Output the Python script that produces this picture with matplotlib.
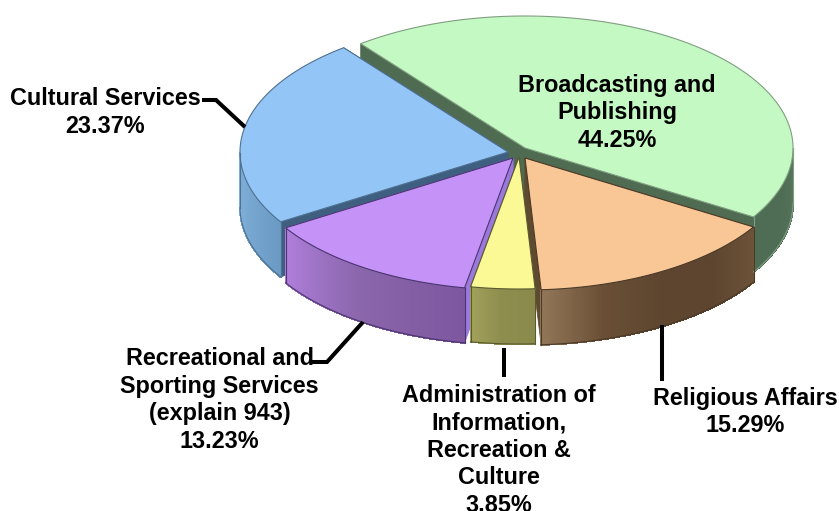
import numpy as np
import matplotlib.pyplot as plt
from matplotlib.patches import Polygon
from matplotlib.colors import to_rgb

plt.rcParams['font.family'] = ['Liberation Sans', 'DejaVu Sans']

categories = ['Broadcasting and\nPublishing', 'Religious Affairs',
              'Administration of\nInformation,\nRecreation &\nCulture',
              'Recreational and\nSporting Services\n(explain 943)',
              'Cultural Services']
shares = [44.25, 15.29, 3.85, 13.23, 23.37]

# look of each slice, same order as categories
top_colors = ['#c5f9c3', '#f9c795', '#fbf896', '#c592f7', '#93c6f6']
cut_colors = ['#4f6b52', '#5f4a30', '#5f4a30', '#9a78dc', '#3f5f80']
wall_stops = [['#4f6d54', '#4f6d54', '#56755b'],
              ['#937759', '#6a4f36', '#5e452f', '#5e452f', '#6c5238'],
              ['#a3a25c', '#8d8d4e', '#8a8a4c'],
              ['#b07fdc', '#8a66ab', '#7d57a0'],
              ['#82b4e0', '#78a8d2', '#6b9ac4']]
edge_colors = ['#7f9f80', '#4a3a28', '#5a5a30', '#4a3570', '#4f7090']
centers = [(525, 148), (525, 158), (519, 157), (513, 158), (508, 152)]

rx, ry = 268, 132
depth = 55
start_angle = -31.5


def rim(center, deg):
    t = np.radians(deg)
    return np.column_stack([center[0] + rx * np.cos(t), center[1] - ry * np.sin(t)])


def blend(stops, f):
    stops = [np.array(to_rgb(c)) for c in stops]
    f = f * (len(stops) - 1)
    i = min(int(f), len(stops) - 2)
    return stops[i] + (stops[i + 1] - stops[i]) * (f - i)


fig = plt.figure(figsize=(8.39, 5.11), dpi=100)
ax = fig.add_axes([0, 0, 1, 1])
ax.set_xlim(0, 839)
ax.set_ylim(511, 0)
ax.axis('off')

# slice angles run clockwise from the green/orange boundary
sweeps = np.array(shares) / sum(shares) * 360
ends = [start_angle + sweeps[0]]
starts = [start_angle]
a = start_angle
for s in sweeps[1:]:
    starts.append(a - s)
    ends.append(a)
    a -= s

# back slices first so the front ones overlap them
for i in [0, 4, 1, 3, 2]:
    c, a0, a1 = centers[i], starts[i], ends[i]
    down = np.array([0, depth])

    # the two cut faces
    for ang in (a0, a1):
        p = rim(c, np.array([ang]))[0]
        cut = [c, p, p + down, np.array(c) + down]
        ax.add_patch(Polygon(cut, closed=True, fc=cut_colors[i], ec=cut_colors[i], lw=0.5))

    # outer wall, only the part facing front, shaded in thin strips
    angs = np.linspace(a0, a1, 240)
    norm = ((angs + 360) % 360)
    angs = angs[(norm >= 180) & (norm <= 360)]
    if len(angs) > 1:
        pts = rim(c, angs)
        for k in range(len(pts) - 1):
            f = k / (len(pts) - 2) if len(pts) > 2 else 0
            col = blend(wall_stops[i], f)
            q = [pts[k], pts[k + 1], pts[k + 1] + down, pts[k] + down]
            ax.add_patch(Polygon(q, closed=True, fc=col, ec=col, lw=0.8, antialiased=False))
        ax.plot(pts[:, 0], pts[:, 1] + depth, color=edge_colors[i], lw=0.8)
        ax.plot([pts[0, 0]] * 2, [pts[0, 1], pts[0, 1] + depth], color=edge_colors[i], lw=0.8)
        ax.plot([pts[-1, 0]] * 2, [pts[-1, 1], pts[-1, 1] + depth], color=edge_colors[i], lw=0.8)

    # top face
    arc = rim(c, np.linspace(a0, a1, 200))
    top = np.vstack([[c], arc])
    ax.add_patch(Polygon(top, closed=True, fc=top_colors[i], ec=edge_colors[i], lw=0.8))

# leader lines
leaders = [([202, 216, 245], [100, 100, 127]),
           ([312, 327, 363], [362, 362, 322]),
           ([504, 504], [348, 377]),
           ([662, 662], [325, 381])]
for xs, ys in leaders:
    ax.plot(xs, ys, color='black', lw=2.9, solid_capstyle='butt', solid_joinstyle='miter')

# labels
label_pos = [(617, 113), (745, 412), (499, 450.5), (219.5, 400), (105, 112.5)]
for name, val, (x, y) in zip(categories, shares, label_pos):
    ax.text(x, y, f'{name}\n{val:.2f}%', ha='center', va='center', fontsize=16.8,
            fontweight='bold', color='black', linespacing=1.25)

fig.savefig('out.png', dpi=100)
